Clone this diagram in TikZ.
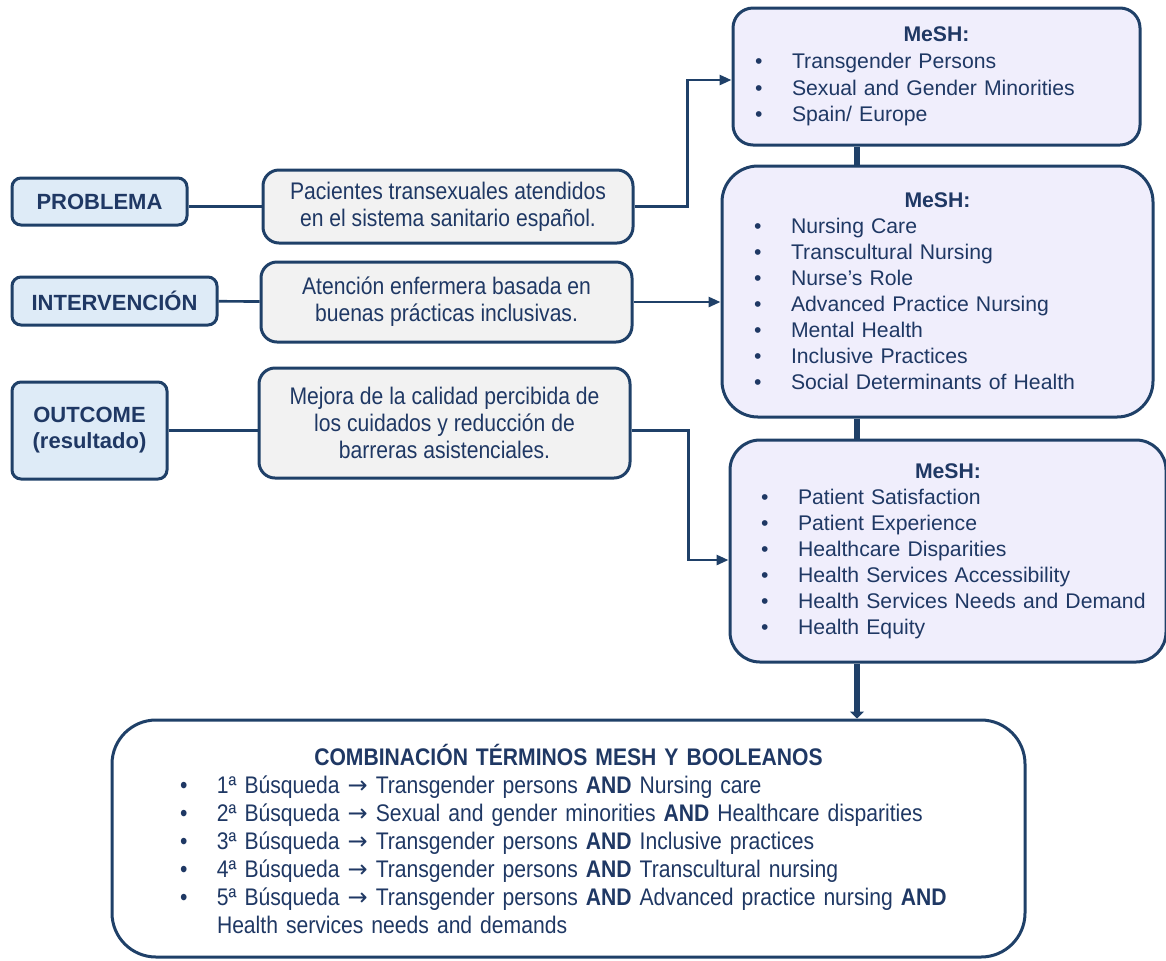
\documentclass[tikz,border=0pt]{standalone}
\usepackage{fontspec}
\setmainfont{Liberation Sans}
\newfontfamily\narrowfont[FakeStretch=0.88]{Liberation Sans}
\newfontfamily\arrowfont{DejaVu Sans}
\usetikzlibrary{arrows.meta,positioning}
\definecolor{linecol}{HTML}{1F4068}
\definecolor{txtcol}{HTML}{1F3864}
\definecolor{picofill}{HTML}{DEEBF7}
\definecolor{descfill}{HTML}{F2F2F2}
\definecolor{meshfill}{HTML}{F0EEFC}
\newlength{\bulw}\setlength{\bulw}{18.5pt}
\newcommand{\bul}[1]{\par\mbox{\makebox[\bulw][l]{•}#1}}
\newcommand{\bulnext}[1]{\par\hspace*{\bulw}#1}
\newcommand{\bus}[1]{#1ª Búsqueda {\arrowfont→} }

\begin{document}
\begin{tikzpicture}[x=0.5pt,y=-0.5pt,
		picobox/.style={draw=linecol,line width=1.5pt,fill=picofill,rounded corners=4.5pt,
			text=txtcol,font=\fontsize{11}{13}\selectfont\bfseries,align=center,inner sep=0pt},
		descbox/.style={draw=linecol,line width=1.5pt,fill=descfill,rounded corners=8pt,
			text=txtcol,font=\narrowfont\fontsize{12}{13.5}\selectfont,align=center,inner sep=0pt},
		meshbox/.style={draw=linecol,line width=1.5pt,fill=meshfill,rounded corners=12pt,
			text=txtcol,font=\fontsize{10.6}{13}\selectfont,align=left,inner ysep=0pt},
		conn/.style={draw=linecol,line width=1.35pt},
		arr/.style={-{Triangle[length=6pt,width=5pt]}},
		bar/.style={draw=linecol,line width=3pt},
		bartip/.style={-{Triangle[length=3.5pt,width=7pt]}}
		]
		\useasboundingbox (0,0) rectangle (1166,960);

		% PICO boxes
		\node[picobox, minimum width=87.5pt, minimum height=23.5pt](P0) at (99.5,201.5){PROBLEMA};
		\node[picobox, minimum width=102.5pt, minimum height=24pt](I0) at (114.5,301){INTERVENCIÓN};
		\node[picobox, minimum width=77.5pt, minimum height=48.5pt](O0) at (89.5,430.5){OUTCOME\\(resultado)};

		\node[descbox, minimum width=185pt, minimum height=36.5pt](P1) at (448,206.5)
			{Pacientes transexuales atendidos\\en el sistema sanitario español.};
		\node[descbox, minimum width=185.5pt, minimum height=40pt](I1) at (446.5,302)
			{Atención enfermera basada en\\buenas prácticas inclusivas.};
		\node[descbox, minimum width=185.5pt, minimum height=55pt](O1) at (444.5,423)
			{Mejora de la calidad percibida de\\los cuidados y reducción de\\barreras asistenciales.};

		% MeSH boxes
		\node[meshbox, rounded corners=10pt, minimum width=203.5pt, minimum height=68.5pt,
			font=\fontsize{10.6}{13.4}\selectfont, text width=181.5pt, inner xsep=11pt](M1) at (936.5,76.5)
			{\centerline{\bfseries MeSH:}%
			\bul{Transgender Persons}\bul{Sexual and Gender Minorities}\bul{Spain/ Europe}};
		\node[meshbox, rounded corners=18pt, minimum width=215.5pt, minimum height=125.5pt,
			text width=183.5pt, inner xsep=16pt](M2) at (937.5,291.5){\centerline{\bfseries MeSH:}%
			\bul{Nursing Care}\bul{Transcultural Nursing}\bul{Nurse’s Role}\bul{Advanced Practice Nursing}%
			\bul{Mental Health}\bul{Inclusive Practices}\bul{Social Determinants of Health}};
		\node[meshbox, rounded corners=15pt, minimum width=218pt, minimum height=111pt,
			text width=187pt, inner xsep=15.5pt](M3) at (948,551){\centerline{\bfseries MeSH:}%
			\bul{Patient Satisfaction}\bul{Patient Experience}\bul{Healthcare Disparities}%
			\bul{Health Services Accessibility}\bul{Health Services Needs and Demand}\bul{Health Equity}};

		\node[meshbox, fill=white, rounded corners=22pt, font=\narrowfont\fontsize{12}{14}\selectfont,
			minimum width=456.5pt, minimum height=118.5pt, text width=388.5pt, inner xsep=34pt](C) at (568.5,838.5)
			{\centerline{\bfseries COMBINACIÓN TÉRMINOS MESH Y BOOLEANOS}%
			\bul{\bus{1}Transgender persons \textbf{AND} Nursing care}%
			\bul{\bus{2}Sexual and gender minorities \textbf{AND} Healthcare disparities}%
			\bul{\bus{3}Transgender persons \textbf{AND} Inclusive practices}%
			\bul{\bus{4}Transgender persons \textbf{AND} Transcultural nursing}%
			\bul{\bus{5}Transgender persons \textbf{AND} Advanced practice nursing \textbf{AND}}%
			\bulnext{Health services needs and demands}};

		% connectors
		\draw[conn] (P1.west) -- (P1.west -| P0.east);
		\draw[conn] (I0) -- (I1);
		\draw[conn] (O0.east) -- (O0.east -| O1.west);
		\draw[conn, arr] (P1.east) -- ++(53,0) |- ([yshift=-1.75pt]M1.west);
		\draw[conn, arr] (I1.east) -- (I1.east -| M2.west);
		\draw[conn, arr] (O1.east |- O0.east) -- ++(57,0) |- ([yshift=-4.5pt]M3.west);

		\coordinate (spine) at (857,0);
		\draw[bar] (M1.south -| spine) -- (M2.north -| spine);
		\draw[bar] (M2.south -| spine) -- (M3.north -| spine);
		\draw[bar, bartip] (M3.south -| spine) -- (C.north -| spine);
	\end{tikzpicture}
\end{document}
